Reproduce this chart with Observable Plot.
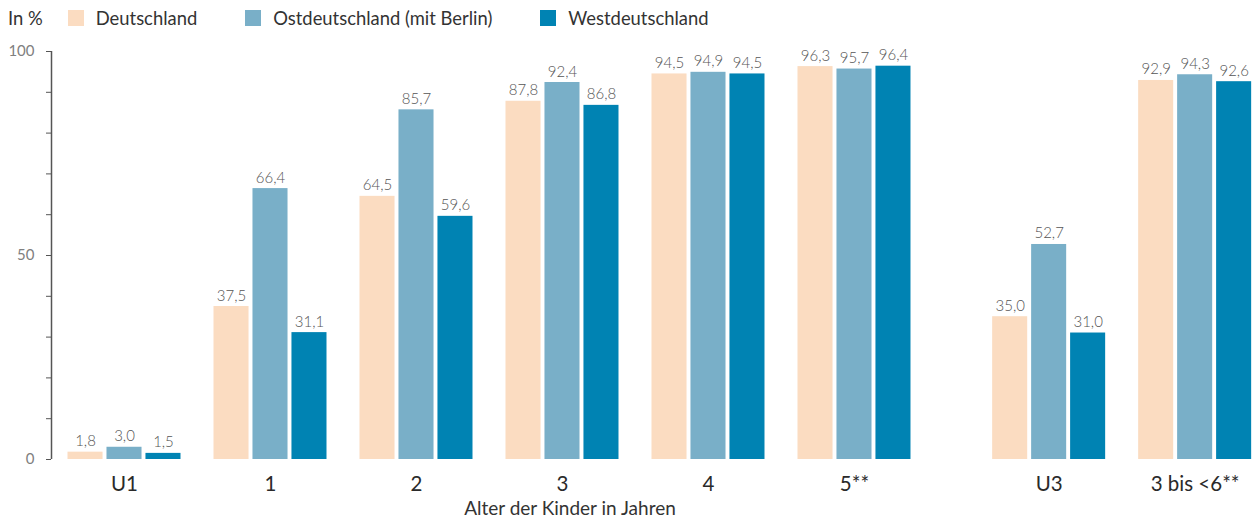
<!DOCTYPE html>
<html>
<head>
<meta charset="utf-8">
<script src="https://cdn.jsdelivr.net/npm/d3@7"></script>
<script src="https://cdn.jsdelivr.net/npm/@observablehq/plot@0.6"></script>
<style>
  body { margin: 0; background: #fff; font-family: Lato, "Open Sans", sans-serif; }
  #legend { height: 36px; display: flex; align-items: center; font-size: 18.4px; color: #333; }
  #legend .unit { margin-left: 8px; margin-right: 25px; }
  #legend .sw { width: 16px; height: 16px; display: inline-block; margin-right: 12px; }
  #legend .item { display: flex; align-items: center; margin-right: 48px; }
  #caption { width: 1140px; text-align: center; font-size: 19px; color: #333; line-height: 22px; }
</style>
</head>
<body>
<div id="legend"></div>
<div id="chart"></div>
<div id="caption"></div>
<script>
const categories = ["U1", "1", "2", "3", "4", "5**", "U3", "3 bis <6**"];
const series = ["Deutschland", "Ostdeutschland (mit Berlin)", "Westdeutschland"];
const deutschland = [1.8, 37.5, 64.5, 87.8, 94.5, 96.3, 35.0, 92.9];
const ostdeutschland = [3.0, 66.4, 85.7, 92.4, 94.9, 95.7, 52.7, 94.3];
const westdeutschland = [1.5, 31.1, 59.6, 86.8, 94.5, 96.4, 31.0, 92.6];
const yTicks = [0, 10, 20, 30, 40, 50, 60, 70, 80, 90, 100];
const yLabels = [0, 50, 100];
const unitLabel = "In %";
const xTitle = "Alter der Kinder in Jahren";
const colors = ["#fbdcc1", "#79afc8", "#0083b3"];

// layout: group break before the aggregated categories (U3, 3 bis <6)
const breakIndex = 6, breakGap = 1 / 3;
const groupPos = categories.map((c, i) => i + (i >= breakIndex ? breakGap : 0));
const barOffset = 0.267, barHalf = 0.12;

const values = [deutschland, ostdeutschland, westdeutschland];
const rows = [];
categories.forEach((c, i) => {
  series.forEach((s, j) => {
    const center = groupPos[i] + (j - 1) * barOffset;
    rows.push({category: c, series: s, value: values[j][i], x1: center - barHalf, x2: center + barHalf, xc: center});
  });
});

const fmt = v => v.toFixed(1).replace(".", ",");

// legend
const legend = document.getElementById("legend");
const unit = document.createElement("span");
unit.className = "unit";
unit.textContent = unitLabel;
legend.appendChild(unit);
series.forEach((s, j) => {
  const item = document.createElement("span");
  item.className = "item";
  const sw = document.createElement("span");
  sw.className = "sw";
  sw.style.background = colors[j];
  item.appendChild(sw);
  item.appendChild(document.createTextNode(s));
  legend.appendChild(item);
});
document.getElementById("caption").textContent = xTitle;

const chart = Plot.plot({
  width: 1253,
  height: 461,
  marginLeft: 51,
  marginRight: 0,
  marginTop: 15,
  marginBottom: 38,
  style: {fontFamily: "Lato, sans-serif", background: "#fff"},
  x: {type: "linear", domain: [-0.5, 7.733], axis: null},
  y: {domain: [0, 100], axis: null},
  color: {domain: series, range: colors},
  marks: [
    Plot.rectY(rows, {x1: "x1", x2: "x2", y1: 0, y2: "value", fill: "series"}),
    Plot.text(rows, {x: "xc", y: "value", text: d => fmt(d.value), lineAnchor: "bottom", dy: -6, fill: "#555", fontSize: 15, fontWeight: 300}),
    Plot.axisY({ticks: yTicks, tickFormat: d => yLabels.includes(d) ? String(d) : "", tickSize: 5, tickPadding: 12, fontSize: 15, fill: "#808080", stroke: "#555", label: null}),
    Plot.ruleX([-0.5], {y1: 0, y2: 100, stroke: "#555", strokeWidth: 1.5}),
    Plot.axisX({ticks: groupPos, tickFormat: d => categories[groupPos.indexOf(d)], tickSize: 0, tickPadding: 17, fontSize: 20.5, fill: "#2a2a2a", fontWeight: 400, label: null})
  ]
});
document.getElementById("chart").appendChild(chart);
</script>
</body>
</html>
